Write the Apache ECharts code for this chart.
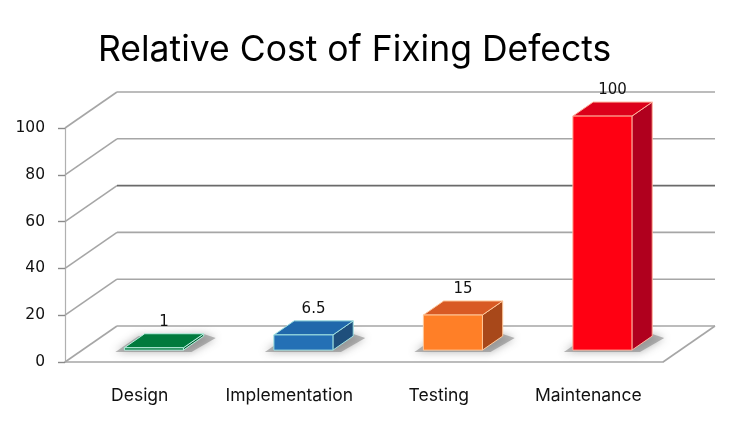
<!DOCTYPE html>
<html>
<head>
<meta charset="utf-8">
<script src="https://cdn.jsdelivr.net/npm/echarts@6/dist/echarts.min.js"></script>
<style>
  html, body { margin: 0; padding: 0; background: #fff; }
  #chart { width: 733px; height: 438px; }
</style>
</head>
<body>
<div id="chart"></div>
<script>
// data
const categories = ['Design', 'Implementation', 'Testing', 'Maintenance']
const costValues = [1, 6.5, 15, 100]
const yTicks = [0, 20, 40, 60, 80, 100]

// colours per bar: front, top, side, edge
const frontColors = ['#007a3d', '#2470b5', '#ff7f27', '#ff0012']
const topColors = ['#007a3d', '#2068ab', '#d85a24', '#dc001a']
const sideColors = ['#00602f', '#1f4f7c', '#a8481a', '#b0001e']
const edgeColors = ['#b8eee0', '#9fe0e0', '#ffc89a', '#ffb09a']

// depth of the fake 3d box (pixels)
const DX = 52
const DY = -36
const F1 = 0.33 // bar front, share of depth
const F2 = 0.72 // bar back

const chart = echarts.init(document.getElementById('chart'))

// back wall, side wall and floor lines
function renderWall (params, api) {
  const cs = params.coordSys
  const L = cs.x
  const R = cs.x + cs.width
  const v = api.value(1)
  const y = api.coord([0, v])[1]
  const light = '#a6a6a6'
  const children = [
    {
      type: 'line',
      shape: { x1: L, y1: y, x2: L + DX, y2: y + DY },
      style: { stroke: light, lineWidth: 1.6 },
      silent: true
    },
    {
      type: 'line',
      shape: { x1: L + DX, y1: y + DY, x2: R + DX, y2: y + DY },
      style: { stroke: v === 60 ? '#6a6a6a' : light, lineWidth: 1.6 },
      silent: true
    }
  ]
  if (v === 0) {
    children.push({
      type: 'line',
      shape: { x1: R, y1: y, x2: R + DX, y2: y + DY },
      style: { stroke: light, lineWidth: 1.6 },
      silent: true
    })
  }
  return { type: 'group', children: children }
}

// one box per category
function renderBar (params, api) {
  const i = api.value(0)
  const v = api.value(1)
  const base = api.coord([i, 0])
  const top = api.coord([i, v])
  const bandW = api.size([1, 0])[0]
  const w = bandW * 0.395
  const ox = F1 * DX - 3
  const oy = F1 * DY
  const ddx = (F2 - F1) * DX
  const ddy = (F2 - F1) * DY
  const xl = base[0] + ox - w / 2
  const xr = xl + w
  const yb = base[1] + oy
  const yt = top[1] + oy
  const edge = { stroke: edgeColors[i], lineWidth: 1, lineJoin: 'round' }

  return {
    type: 'group',
    children: [
      {
        type: 'polygon',
        shape: { points: [[xl - 9, yb + 2], [xr + 8, yb + 2], [xr + ddx + 12, yb + ddy + 2], [xr + ddx, yb + ddy - 2], [xl + ddx - 6, yb + ddy]] },
        style: { fill: 'rgba(120,120,120,0.5)', shadowBlur: 8, shadowColor: 'rgba(90,90,90,0.9)' },
        silent: true
      },
      {
        type: 'polygon',
        shape: { points: [[xr, yt], [xr + ddx, yt + ddy], [xr + ddx, yb + ddy], [xr, yb]] },
        style: Object.assign({ fill: sideColors[i] }, edge)
      },
      {
        type: 'polygon',
        shape: { points: [[xl, yt], [xr, yt], [xr + ddx, yt + ddy], [xl + ddx, yt + ddy]] },
        style: Object.assign({ fill: topColors[i] }, edge)
      },
      {
        type: 'rect',
        shape: { x: xl, y: yt, width: w, height: Math.max(yb - yt, 1.5) },
        style: Object.assign({ fill: frontColors[i] }, edge)
      },
      {
        type: 'text',
        style: {
          x: (xl + xr) / 2 + ddx / 2,
          y: yt + ddy - 4,
          text: String(v),
          fill: '#111',
          font: '15px "DejaVu Sans"',
          align: 'center',
          verticalAlign: 'bottom'
        }
      }
    ]
  }
}

const option = {
  animation: false,
  backgroundColor: '#fff',
  title: {
    text: 'Relative Cost of Fixing Defects',
    left: 93,
    top: 27,
    textStyle: { fontFamily: 'Inter', fontSize: 35.5, fontWeight: 'normal', color: '#000' }
  },
  grid: { left: 65, right: 70, top: 128, bottom: 76 },
  xAxis: {
    type: 'category',
    data: categories,
    axisLine: { lineStyle: { color: '#a6a6a6', width: 1.6 } },
    axisTick: { length: 8, lineStyle: { color: '#8a8a8a', width: 1.4 } },
    axisLabel: { interval: 0, margin: 25, fontFamily: 'Inter', fontSize: 17.5, color: '#111' },
    splitLine: { show: false }
  },
  yAxis: {
    type: 'value',
    min: 0,
    max: 100,
    interval: 20,
    axisLine: { show: true, lineStyle: { color: '#b0b0b0', width: 1.2 } },
    axisTick: { show: true, length: 7, lineStyle: { color: '#8a8a8a', width: 1.4 } },
    axisLabel: { margin: 20, fontFamily: 'DejaVu Sans', fontSize: 15.5, color: '#111' },
    splitLine: { show: false }
  },
  series: [
    {
      type: 'custom',
      renderItem: renderWall,
      data: yTicks.map(t => [0, t]),
      encode: { x: 0, y: 1 },
      z: 1,
      silent: true
    },
    {
      type: 'custom',
      renderItem: renderBar,
      data: costValues.map((v, i) => [i, v]),
      encode: { x: 0, y: 1 },
      z: 3
    }
  ]
}

chart.setOption(option)
</script>
</body>
</html>
